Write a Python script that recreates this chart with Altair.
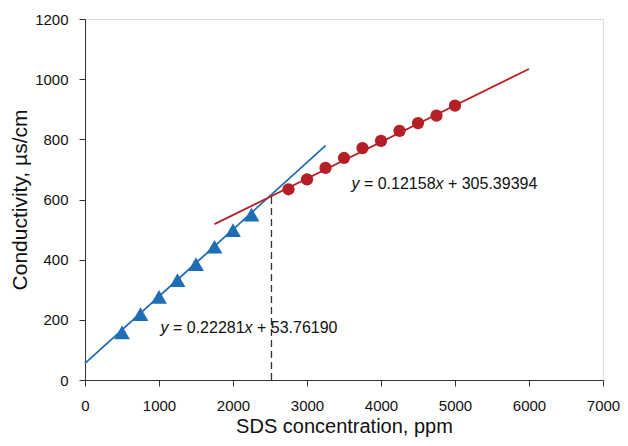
import altair as alt
import pandas as pd

# Premicellar region (triangles)
x_pre = [500, 750, 1000, 1250, 1500, 1750, 2000, 2250]
y_pre = [158, 219, 276, 332, 385, 443, 498, 550]
# Postmicellar region (circles)
x_post = [2750, 3000, 3250, 3500, 3750, 4000, 4250, 4500, 4750, 5000]
y_post = [634, 667, 705, 738, 771, 795, 828, 854, 879, 912]

# Fit line end points
fit_blue_x = [0, 3250]
fit_blue_y = [55, 779]
fit_red_x = [1750, 6000]
fit_red_y = [518, 1034]

# CMC marker (dashed vertical)
cmc_x = [2520, 2520]
cmc_y = [0, 613]

BLUE = "#1F6DB4"
RED = "#B51F26"
FONT = "Liberation Sans"

pre = pd.DataFrame({"x": x_pre, "y": y_pre})
post = pd.DataFrame({"x": x_post, "y": y_post})
lb = pd.DataFrame({"x": fit_blue_x, "y": fit_blue_y})
lr = pd.DataFrame({"x": fit_red_x, "y": fit_red_y})
cmc = pd.DataFrame({"x": cmc_x, "y": cmc_y})

xs = alt.Scale(domain=[0, 7000], nice=False)
ys = alt.Scale(domain=[0, 1200], nice=False)

xax = alt.Axis(title="SDS concentration, ppm", values=list(range(0, 7001, 1000)), format="d",
               grid=False, tickSize=6, labelPadding=12,
               labelFontSize=15, titleFontSize=20, labelFont=FONT, titleFont=FONT,
               labelColor="#111", titleColor="#111", titleFontWeight="normal",
               domainColor="#333", tickColor="#333", labelFlush=False,
               titleY=52, titleBaseline="alphabetic")
yax = alt.Axis(title="Conductivity, µs/cm", values=list(range(0, 1201, 200)), format="d",
               grid=False, tickSize=6, labelPadding=11,
               labelFontSize=15, titleFontSize=21, labelFont=FONT, titleFont=FONT,
               labelColor="#111", titleColor="#111", titleFontWeight="normal",
               domainColor="#333", tickColor="#333", labelFlush=False,
               titleX=-65, titleBaseline="middle")

enc_x = alt.X("x:Q", scale=xs, axis=xax)
enc_y = alt.Y("y:Q", scale=ys, axis=yax)

blue_line = alt.Chart(lb).mark_line(color=BLUE, strokeWidth=1.8).encode(x=enc_x, y=enc_y)
red_line = alt.Chart(lr).mark_line(color=RED, strokeWidth=1.8).encode(x="x:Q", y="y:Q")
cmc_line = alt.Chart(cmc).mark_line(color="#333", strokeWidth=1.3, strokeDash=[7, 4]).encode(x="x:Q", y="y:Q")
tri = alt.Chart(pre).mark_point(shape="triangle-up", filled=True, color=BLUE, size=250, opacity=1).encode(x="x:Q", y="y:Q")
circ = alt.Chart(post).mark_point(shape="circle", filled=True, color=RED, size=150, opacity=1).encode(x="x:Q", y="y:Q")


def label(x, y, pieces):
    layers = []
    anchor = pd.DataFrame({"x": [x], "y": [y]})
    for txt, ital, off in pieces:
        layers.append(alt.Chart(anchor).mark_text(
            text=txt, align="left", baseline="middle", dx=off, fontSize=16, font=FONT,
            fontStyle="italic" if ital else "normal", color="#111"
        ).encode(x="x:Q", y="y:Q"))
    return layers


lab_red = label(3600, 652, [("y", True, 0), ("= 0.12158", False, 12.5),
                            ("x", True, 84), ("+ 305.39394", False, 96.5)])
lab_blue = label(1020, 173, [("y", True, 0), ("= 0.22281", False, 12.5),
                             ("x", True, 84), ("+ 53.76190", False, 96.5)])

chart = alt.layer(blue_line, red_line, cmc_line, tri, circ, *lab_red, *lab_blue).properties(
    width=518, height=361,
    padding={"left": 77, "top": 11, "right": 17, "bottom": 57},
    autosize="none",
).configure_view(stroke="#333", strokeWidth=1).configure(background="white")

chart.save("out.html", embed_options={"renderer": "svg", "actions": False})
